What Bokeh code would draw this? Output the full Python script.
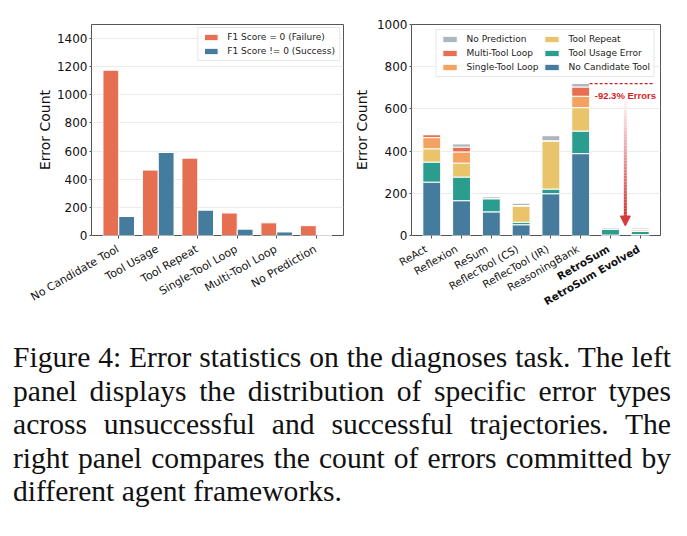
import numpy as np
from bokeh.plotting import figure
from bokeh.models import (Range1d, FixedTicker, Label, Legend, LegendItem,
                          ColumnDataSource, Div, Arrow, NormalHead)
from bokeh.layouts import row, column
from bokeh.core.properties import value
from bokeh.embed import file_html
from bokeh.resources import INLINE

# ---------------- data: left panel ----------------
error_types = ["No Candidate Tool", "Tool Usage", "Tool Repeat",
               "Single-Tool Loop", "Multi-Tool Loop", "No Prediction"]
failure_counts = [1175, 465, 550, 160, 90, 70]
success_counts = [135, 590, 180, 45, 25, 0]
left_legend = ["F1 Score = 0 (Failure)", "F1 Score != 0 (Success)"]
left_yticks = [0, 200, 400, 600, 800, 1000, 1200, 1400]

# ---------------- data: right panel ----------------
frameworks = ["ReAct", "Reflexion", "ReSum", "ReflecTool (CS)", "ReflecTool (IR)",
              "ReasoningBank", "RetroSum", "RetroSum Evolved"]
bold_frameworks = ["RetroSum", "RetroSum Evolved"]
no_candidate = [253, 165, 112, 51, 198, 388, 2, 4]
tool_usage = [95, 112, 62, 12, 22, 107, 28, 15]
tool_repeat = [63, 66, 3, 76, 229, 111, 0, 8]
single_loop = [53, 53, 0, 3, 0, 54, 0, 2]
multi_loop = [14, 23, 0, 0, 0, 44, 0, 0]
no_prediction = [2, 15, 8, 11, 24, 16, 6, 6]
stack_names = ["No Candidate Tool", "Tool Usage Error", "Tool Repeat",
               "Single-Tool Loop", "Multi-Tool Loop", "No Prediction"]
right_yticks = [0, 200, 400, 600, 800, 1000]
reduction_label = "-92.3% Errors"

caption_lines = [
    "Figure 4: Error statistics on the diagnoses task. The left",
    "panel displays the distribution of specific error types",
    "across unsuccessful and successful trajectories.  The",
    "right panel compares the count of errors committed by",
    "different agent frameworks.",
]

# ---------------- styles / geometry ----------------
FONT = "DejaVu Sans"
C_FAIL = "#e76f51"
C_SUCC = "#457b9d"
stack_colors = ["#457b9d", "#2a9d8f", "#e9c46a", "#f4a261", "#e76f51", "#adb5bd"]
RED = "#d41f1f"
TOP, FRAME_H, BOT = 24, 211, 7
LAB_H = 72
W1, BL1, BR1 = 350, 91, 7
W2, BL2, BR2 = 337, 56, 27


def style(p, yticks, nx, label_standoff):
    p.outline_line_color = "#555555"
    p.outline_line_width = 1
    p.xgrid.visible = False
    p.ygrid.ticker = FixedTicker(ticks=yticks)
    p.ygrid.grid_line_color = "#e6e6e6"
    p.ygrid.grid_line_width = 0.8
    p.yaxis.ticker = FixedTicker(ticks=yticks)
    p.xaxis.ticker = FixedTicker(ticks=list(range(nx)))
    p.xaxis.major_label_overrides = {i: "" for i in range(nx)}
    p.xaxis.major_label_text_font_size = "0px"
    p.xaxis.major_label_standoff = 0
    for ax in (p.xaxis, p.yaxis):
        ax.axis_line_color = None
        ax.major_tick_line_color = "#555555"
        ax.major_tick_out = 3
        ax.major_tick_in = 0
        ax.minor_tick_line_color = None
    p.yaxis.major_tick_out = 2
    p.yaxis.major_label_text_font = FONT
    p.yaxis.major_label_text_font_size = "12px"
    p.yaxis.major_label_text_color = "#111111"
    p.yaxis.major_label_standoff = 2
    p.yaxis.axis_label = "Error Count"
    p.yaxis.axis_label_text_font = FONT
    p.yaxis.axis_label_text_font_size = "14px"
    p.yaxis.axis_label_text_font_style = "normal"
    p.yaxis.axis_label_text_color = "#111111"
    p.yaxis.axis_label_standoff = label_standoff


def legend_kw():
    return dict(margin=4, padding=4, spacing=4, glyph_width=18, glyph_height=8,
                label_standoff=8, label_text_font=FONT, label_text_font_size="9px",
                label_text_color="#222222", label_height=9,
                border_line_color="#d0d0d0", border_line_width=1,
                background_fill_alpha=0.8)


# ---------------- left panel ----------------
n1 = len(error_types)
p1 = figure(width=W1, height=TOP + FRAME_H + BOT, x_range=Range1d(-0.69, n1 - 0.31),
            y_range=Range1d(0, 1500), output_backend="svg", toolbar_location=None,
            min_border_left=BL1, min_border_right=BR1, min_border_top=TOP,
            min_border_bottom=BOT)
x1 = np.arange(n1)
src1 = ColumnDataSource(dict(xf=x1 - 0.2, xs=x1 + 0.2, f=failure_counts, s=success_counts))
rf = p1.vbar(x="xf", top="f", width=0.4, source=src1, fill_color=C_FAIL,
             line_color="white", line_width=1)
rs = p1.vbar(x="xs", top="s", width=0.4, source=src1, fill_color=C_SUCC,
             line_color="white", line_width=1)
style(p1, left_yticks, n1, 1)
leg1 = Legend(items=[LegendItem(label=left_legend[0], renderers=[rf]),
                     LegendItem(label=left_legend[1], renderers=[rs])],
              location="top_right", **legend_kw())
leg1.margin = 3
leg1.glyph_width = 17
p1.add_layout(leg1)

# ---------------- right panel ----------------
n2 = len(frameworks)
p2 = figure(width=W2, height=TOP + FRAME_H + BOT, x_range=Range1d(-0.68, n2 - 0.32),
            y_range=Range1d(0, 1000), output_backend="svg", toolbar_location=None,
            min_border_left=BL2, min_border_right=BR2, min_border_top=TOP,
            min_border_bottom=BOT)
keys = ["nc", "tu", "tr", "sl", "ml", "np"]
src2 = ColumnDataSource(dict(x=np.arange(n2), nc=no_candidate, tu=tool_usage,
                             tr=tool_repeat, sl=single_loop, ml=multi_loop,
                             np=no_prediction))
rends = p2.vbar_stack(keys, x="x", width=0.6, source=src2, color=stack_colors,
                      line_color="white", line_width=1)
style(p2, right_yticks, n2, 4)
order = [5, 4, 3, 2, 1, 0]
leg2 = Legend(items=[LegendItem(label=stack_names[k], renderers=[rends[k]]) for k in order],
              location="top_right", ncols=2, **legend_kw())
leg2.margin = 5
p2.add_layout(leg2)

# annotation (right panel)
totals = np.sum([no_candidate, tool_usage, tool_repeat, single_loop, multi_loop,
                 no_prediction], axis=0)
rb = frameworks.index("ReasoningBank")
top_total = float(totals[rb])
ann_x = (frameworks.index("RetroSum") + frameworks.index("RetroSum Evolved")) / 2.0
p2.segment(x0=[rb + 0.3], x1=[n2 - 0.55], y0=[top_total], y1=[top_total],
           line_color=RED, line_width=1.1, line_dash="3 2")
p2.add_layout(Label(x=ann_x, y=top_total - 55, text=reduction_label,
                    text_align="center", text_baseline="middle",
                    text_color=RED, text_font="Liberation Sans",
                    text_font_style="bold", text_font_size="9.5px"))
shaft_top = top_total - 68
tip = float(totals[-1]) + 10
shaft_bot = tip + 42
N = 40
ys = np.linspace(shaft_top, shaft_bot, N + 1)
cols = []
for t in np.linspace(0, 1, N):
    c0 = np.array([255, 250, 250])
    c1 = np.array([214, 50, 50])
    c = (c0 + (c1 - c0) * t).astype(int)
    cols.append("#%02x%02x%02x" % tuple(c))
p2.segment(x0=[ann_x] * N, x1=[ann_x] * N, y0=ys[:-1], y1=ys[1:],
           line_color=cols, line_width=3)
p2.add_layout(Arrow(end=NormalHead(size=10, fill_color="#d63a3a", line_color="#d63a3a"),
                    x_start=ann_x, y_start=shaft_bot, x_end=ann_x, y_end=tip,
                    line_color="#d63a3a", line_width=0.5))

# ---------------- rotated category labels (full-width strip) ----------------
lab = figure(width=W1 + W2, height=LAB_H, x_range=Range1d(0, W1 + W2),
             y_range=Range1d(-LAB_H, 0), output_backend="svg",
             toolbar_location=None, min_border_left=0, min_border_right=0,
             min_border_top=0, min_border_bottom=0)
lab.axis.visible = False
lab.grid.visible = False
lab.outline_line_color = None


def to_px(p, left, width, bl, br, i):
    xs, xe = p.x_range.start, p.x_range.end
    k = (width - bl - br) / (xe - xs)
    return left + bl + (i - xs) * k


entries = []
for i, t in enumerate(error_types):
    entries.append((to_px(p1, 0, W1, BL1, BR1, i), t, "11px", "normal"))
for i, t in enumerate(frameworks):
    entries.append((to_px(p2, W1, W2, BL2, BR2, i), t, "10.5px",
                    "bold" if t in bold_frameworks else "normal"))
for size in ("11px", "10.5px"):
    for st in ("normal", "bold"):
        sel = [e for e in entries if e[2] == size and e[3] == st]
        if not sel:
            continue
        lab.text(x=[e[0] for e in sel], y=[0] * len(sel), text=[e[1] for e in sel],
                 angle=30, angle_units="deg", text_align="right",
                 text_baseline="top", x_offset=-4,
                 text_font=value(FONT), text_font_size=size,
                 text_color="#111111", text_font_style=st)

# ---------------- caption ----------------
html_lines = []
for i, t in enumerate(caption_lines):
    last = "left" if i == len(caption_lines) - 1 else "justify"
    html_lines.append('<div style="text-align:justify;text-align-last:%s;white-space:nowrap;">%s</div>' % (last, t))
caption_html = ('<div style="width:658px;margin-left:8px;margin-top:22px;'
                "font-family:'Liberation Serif',serif;font-size:29.6px;line-height:33.5px;"
                'color:#111111;">' + "".join(html_lines) + "</div>")
cap = Div(text=caption_html, width=687, height=222)

layout = column(row(p1, p2), row(lab), cap)
open("out.html", "w").write(file_html(layout, INLINE))
